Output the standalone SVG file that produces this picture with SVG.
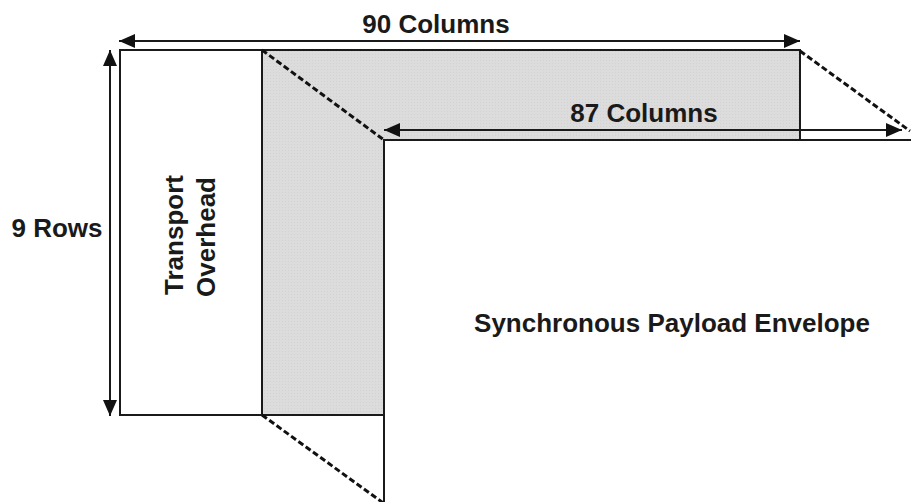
<svg xmlns="http://www.w3.org/2000/svg" width="911" height="502" viewBox="0 0 911 502">
  <style>
    .edge { fill: none; stroke: #1a1a1a; stroke-width: 2; }
    .dim { fill: none; stroke: #1a1a1a; stroke-width: 2; marker-start: url(#head); marker-end: url(#head); }
    .proj { fill: none; stroke: #111; stroke-width: 3; stroke-dasharray: 6 3; }
    .label { font-family: "Liberation Sans", Arial, sans-serif; font-weight: bold; font-size: 26px; fill: #1a1a1a; text-anchor: middle; }
  </style>
  <defs>
    <marker id="head" markerUnits="userSpaceOnUse" markerWidth="16" markerHeight="14" refX="16" refY="7" orient="auto-start-reverse">
      <path d="M0,0 L16,7 L0,14 Z" fill="#111"/>
    </marker>
    <pattern id="dots" width="3" height="3" patternUnits="userSpaceOnUse">
      <rect width="3" height="3" fill="#dcdcdc"/>
      <rect width="1" height="1" fill="#d2d2d2"/>
    </pattern>
  </defs>
  <rect width="911" height="502" fill="#fff"/>

  <!-- Transport overhead block with the shaded frame area -->
  <g id="transport-overhead">
    <path d="M262,50 H800 V140 H384 V415 H262 Z" fill="url(#dots)"/>
    <path class="edge" d="M120,50 H800 V140 H384 V415 H120 Z"/>
    <line class="edge" x1="262" y1="50" x2="262" y2="415"/>
    <text class="label" transform="translate(183,235) rotate(-90)">Transport</text>
    <text class="label" transform="translate(215,237) rotate(-90)">Overhead</text>
  </g>

  <!-- Synchronous payload envelope, running off the lower right edge -->
  <g id="payload-envelope">
    <rect x="384" y="140" width="540" height="380" fill="#fff"/>
    <path class="edge" d="M384,510 V140 H920"/>
    <text class="label" x="672" y="332">Synchronous Payload Envelope</text>
  </g>

  <!-- Dimension arrows and projection lines -->
  <g id="connectors">
    <line class="dim" x1="119" y1="41" x2="800" y2="41"/>
    <line class="dim" x1="384" y1="130" x2="902" y2="130"/>
    <line class="dim" x1="110" y1="50" x2="110" y2="416"/>
    <line class="proj" x1="262" y1="50" x2="384" y2="140"/>
    <line class="proj" x1="800" y1="51" x2="910" y2="131"/>
    <line class="proj" x1="262" y1="415" x2="386" y2="505"/>
  </g>

  <g id="dimension-labels">
    <text class="label" x="436" y="33">90 Columns</text>
    <text class="label" x="644" y="122">87 Columns</text>
    <text class="label" x="57" y="237">9 Rows</text>
  </g>
</svg>
